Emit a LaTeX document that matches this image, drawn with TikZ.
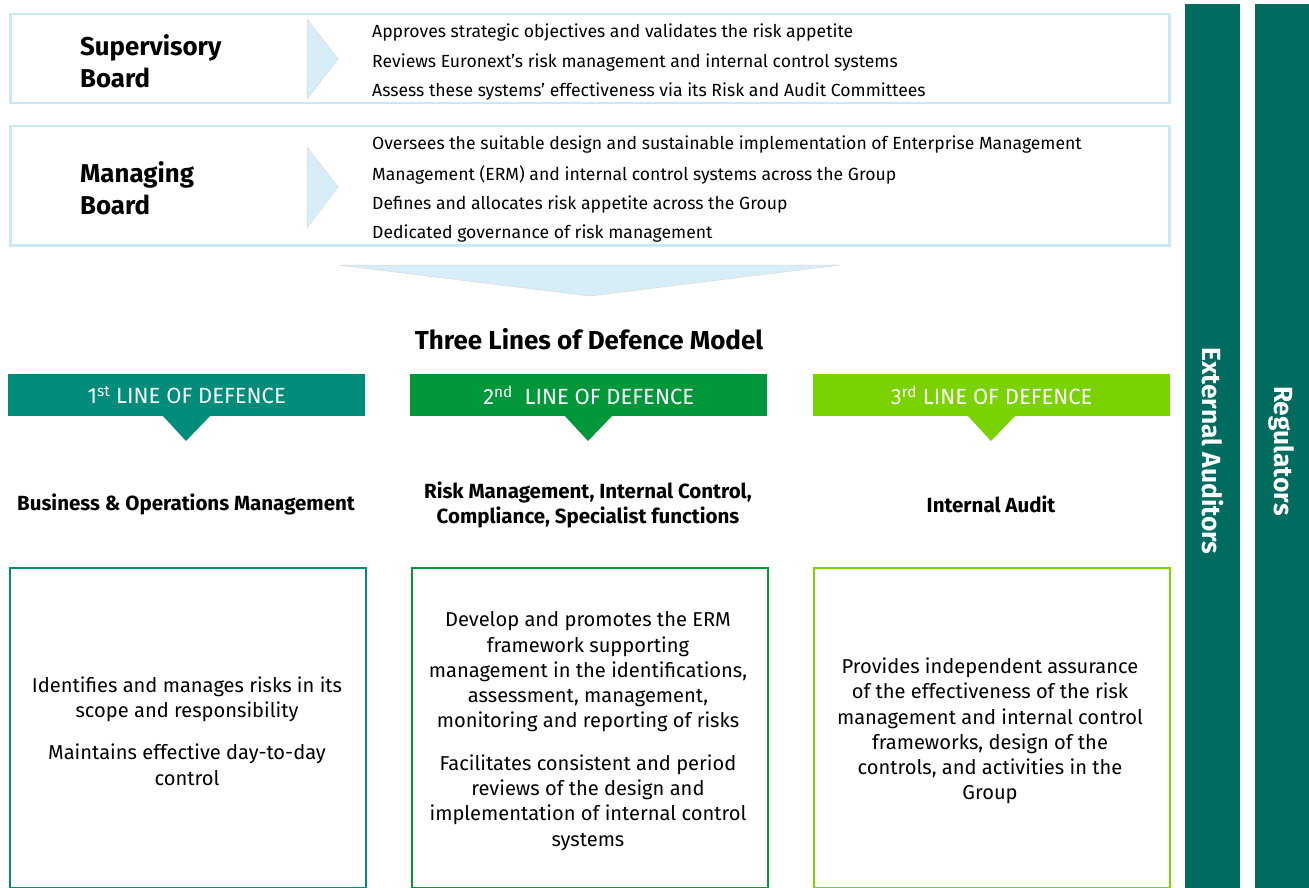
\documentclass[tikz,border=0pt]{standalone}
\usepackage{fontspec}
\setmainfont{Fira Sans}
\definecolor{lblue}{HTML}{CBE8F6}
\definecolor{chev}{HTML}{D7EDF8}
\definecolor{tealA}{HTML}{008C7B}
\definecolor{greenB}{HTML}{00963A}
\definecolor{limeC}{HTML}{7AD200}
\definecolor{dteal}{HTML}{006B5F}
\tikzset{
  boardbox/.style={draw=lblue, line width=2.5pt, fill=white, minimum width=1159pt, anchor=north west, inner sep=0pt},
  chevshape/.style={fill=chev, draw=gray!30, line width=0.5pt},
  boardname/.style={anchor=west, align=left, font=\fontsize{25.8}{32}\selectfont\bfseries, inner sep=0pt},
  boardtext/.style={anchor=west, yshift=-1.5pt, font=\fontsize{17.6}{20}\selectfont, inner sep=0pt},
  banner/.style={minimum width=357pt, minimum height=42pt, anchor=north west, inner sep=0pt, text=white, font=\fontsize{22}{24}\selectfont},
  linehead/.style={align=center, font=\fontsize{20.5}{25}\selectfont\bfseries, inner sep=0pt},
  linebox/.style={line width=2pt, fill=white, minimum width=356pt, minimum height=320pt, anchor=north west, inner sep=0pt},
  boxtext/.style={align=center, font=\fontsize{20.1}{25.3}\selectfont, inner sep=0pt},
  sidebar/.style={fill=dteal, minimum width=55pt, minimum height=884pt, anchor=north west, inner sep=0pt},
  sidetext/.style={rotate=-90, text=white, font=\fontsize{26.3}{28}\selectfont\bfseries, inner sep=0pt}
}
\begin{document}
\begin{tikzpicture}[x=1pt,y=-1pt]
\useasboundingbox (0,0) rectangle (1309,888);
% side bars
\node[sidebar] (ext) at (1185,4) {};
\node[sidetext] (extT) at (1212.5,451) {External Auditors};
\node[sidebar] (reg) at (1255,4) {};
\node[sidetext] (regT) at (1282,451) {Regulators};
% supervisory board
\node[boardbox, minimum height=89pt] (sup) at (9,13) {};
\fill[chevshape] (307,19) -- (338,59) -- (307,99) -- cycle;
\node[boardname] (supN) at (80,61) {Supervisory\\Board};
\node[boardtext] (s1) at (372,31) {Approves strategic objectives and validates the risk appetite};
\node[boardtext] (s2) at (372,61) {Reviews Euronext's risk management and internal control systems};
\node[boardtext] (s3) at (372,90) {Assess these systems' effectiveness via its Risk and Audit Committees};
% managing board
\node[boardbox, minimum height=119pt] (man) at (9,125) {};
\fill[chevshape] (307,147) -- (338,187) -- (307,228) -- cycle;
\node[boardname] (manN) at (80,188) {Managing\\Board};
\node[boardtext] (m1) at (372,143) {Oversees the suitable design and sustainable implementation of Enterprise Management};
\node[boardtext] (m2) at (372,173) {Management (ERM) and internal control systems across the Group};
\node[boardtext] (m3) at (372,203) {Defines and allocates risk appetite across the Group};
\node[boardtext] (m4) at (372,232) {Dedicated governance of risk management};
% big down chevron
\fill[chevshape] (338,265) -- (840,265) -- (590,296) -- cycle;
\node[font=\fontsize{26}{28}\selectfont\bfseries, inner sep=0pt] (title) at (589,339) {Three Lines of Defence Model};
% banners
\node[banner, fill=tealA] (b1) at (8,374) {1\textsuperscript{st} LINE OF DEFENCE};
\fill[tealA] (162,415) -- (211,415) -- (186,441) -- cycle;
\node[banner, fill=greenB] (b2) at (410,374) {2\textsuperscript{nd}\ \ LINE OF DEFENCE};
\fill[greenB] (564,415) -- (613,415) -- (588,441) -- cycle;
\node[banner, fill=limeC] (b3) at (813,374) {3\textsuperscript{rd} LINE OF DEFENCE};
\fill[limeC] (967,415) -- (1016,415) -- (991,441) -- cycle;
% headings
\node[linehead] (h1) at (186,504) {Business \& Operations Management};
\node[linehead] (h2) at (588,505) {Risk Management, Internal Control,\\Compliance, Specialist functions};
\node[linehead] (h3) at (991,504) {Internal Audit};
% lower boxes
\node[linebox, draw=tealA] (x1) at (9,567) {};
\node[linebox, draw=greenB] (x2) at (411,567) {};
\node[linebox, draw=limeC] (x3) at (813,567) {};
\node[boxtext] (t1) at (187,731) {Identifies and manages risks in its\\scope and responsibility\\[17pt]Maintains effective day-to-day\\control};
\node[boxtext] (t2) at (588,731) {Develop and promotes the ERM\\framework supporting\\management in the identifications,\\assessment, management,\\monitoring and reporting of risks\\[17pt]Facilitates consistent and period\\reviews of the design and\\implementation of internal control\\systems};
\node[boxtext] (t3) at (990,731) {Provides independent assurance\\of the effectiveness of the risk\\management and internal control\\frameworks, design of the\\controls, and activities in the\\Group};
\end{tikzpicture}
\end{document}
